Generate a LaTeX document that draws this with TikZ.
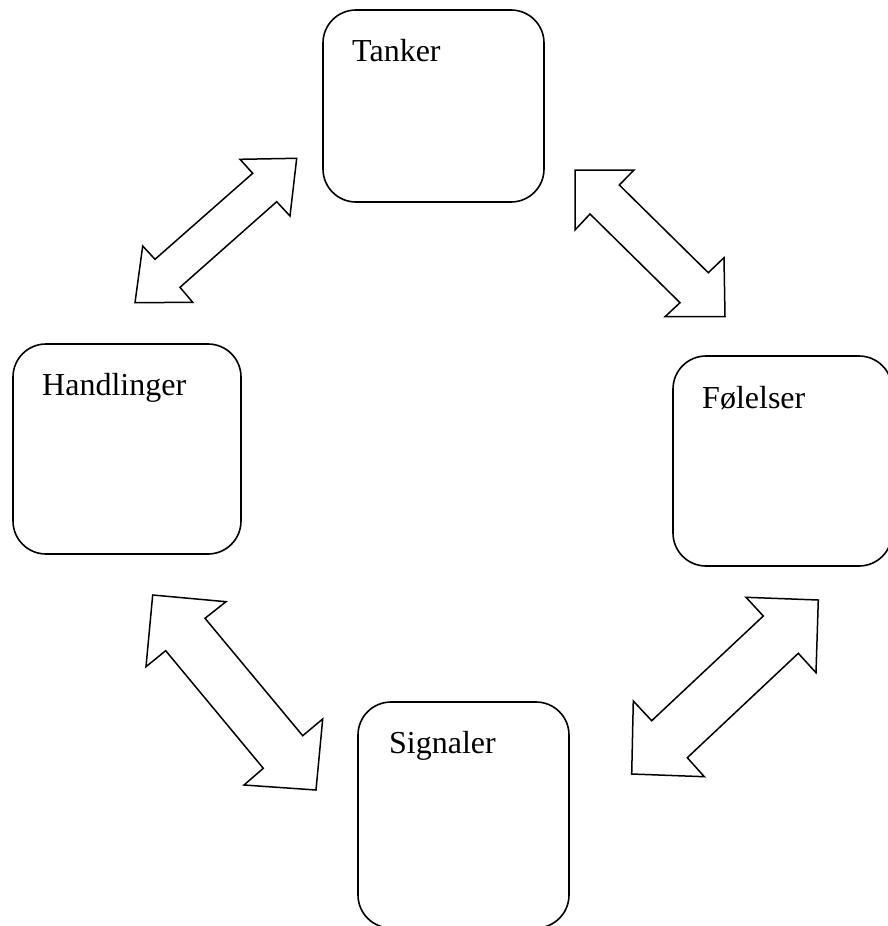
\documentclass[tikz,border=0pt]{standalone}
\usepackage{fontspec}
\setmainfont{Liberation Serif}
\begin{document}
\begin{tikzpicture}[x=1pt,y=-1pt,
  boxnode/.style={draw=black,line width=1.6pt,rounded corners=33pt,inner sep=0pt,fill=none},
  boxtext/.style={anchor=base west,inner sep=0pt,font=\fontsize{32}{38}\selectfont},
  blockarrow/.style={draw=black,line width=1.5pt,line join=miter,fill=white}]
\useasboundingbox (0,0) rectangle (887,926);
% boxes
\node[boxnode,minimum width=221pt,minimum height=192pt] (tanker) at (433.5,106) {};
\node[boxnode,minimum width=228pt,minimum height=210pt] (handl) at (127,449) {};
\node[boxnode,minimum width=219pt,minimum height=210pt] (folel) at (782.5,461) {};
\node[boxnode,minimum width=211pt,minimum height=226pt] (signal) at (463.5,815) {};
% texts
\node[boxtext] (ttanker) at (352,61) {Tanker};
\node[boxtext] (thandl) at (42,395) {Handlinger};
\node[boxtext] (tfolel) at (702,408) {Følelser};
\node[boxtext] (tsignal) at (389,753) {Signaler};
% block arrows
% Tanker <-> Handlinger
\draw[blockarrow] (296.7,158.3) -- (240,159.3) -- (252.7,173.3) -- (155,259.3) -- (142.7,246)
  -- (135,302.7) -- (192.7,302.3) -- (180,287.3) -- (276.7,201.7) -- (290,216) -- cycle;
% Tanker <-> Folelser
\draw[blockarrow] (575,170) -- (634,170) -- (619.3,185) -- (708.3,272.7) -- (724,257.7)
  -- (725,316.7) -- (665,316.7) -- (680,302.7) -- (590,214) -- (575,230) -- cycle;
% Handlinger <-> Signaler
\draw[blockarrow] (152.7,595) -- (226,601.7) -- (205,618.3) -- (302.7,735.7) -- (322.7,719)
  -- (316,790) -- (244,785) -- (263.3,768.3) -- (165.7,650.7) -- (146,666.7) -- cycle;
% Folelser <-> Signaler
\draw[blockarrow] (818.3,600) -- (746,597.3) -- (763.3,616) -- (651.7,720.7) -- (633.3,701)
  -- (631.7,774) -- (704.3,776.7) -- (687.3,757.7) -- (798.3,653.3) -- (816,672.7) -- cycle;
\end{tikzpicture}
\end{document}
